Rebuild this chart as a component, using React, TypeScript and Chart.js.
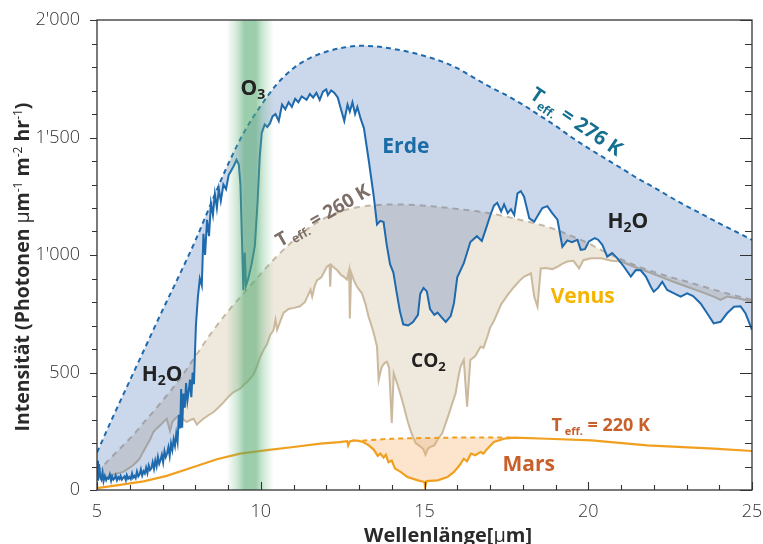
import React, { useEffect, useRef } from 'react';
import { Chart, registerables } from 'chart.js';

Chart.register(...registerables);

// ---------- data ----------
const earthBBX = [5, 5.5, 6, 6.5, 7, 7.5, 8, 8.5, 9, 9.5, 10, 10.5, 11, 11.5, 12, 12.5, 13, 13.5, 14, 14.5, 15, 15.5, 16, 16.5, 17, 17.5, 18, 18.5, 19, 19.5, 20, 20.5, 21, 21.5, 22, 22.5, 23, 23.5, 24, 24.5, 25];
const earthBBY = [160, 315, 465, 615, 765, 910, 1060, 1225, 1385, 1525, 1635, 1728, 1795, 1838, 1865, 1882, 1890, 1888, 1878, 1865, 1847, 1825, 1795, 1755, 1715, 1680, 1640, 1595, 1550, 1500, 1455, 1412, 1370, 1327, 1288, 1247, 1208, 1172, 1135, 1100, 1064];

const earthX = [5.0, 5.03, 5.06, 5.1, 5.13, 5.17, 5.2, 5.24, 5.28, 5.31, 5.35, 5.39, 5.43, 5.46, 5.5, 5.54, 5.57, 5.61, 5.65, 5.69, 5.72, 5.76, 5.8, 5.84, 5.88, 5.91, 5.95, 5.99, 6.03, 6.07, 6.1, 6.14, 6.18, 6.22, 6.26, 6.3, 6.34, 6.38, 6.42, 6.46, 6.5, 6.54, 6.58, 6.62, 6.66, 6.7, 6.74, 6.78, 6.82, 6.86, 6.9, 6.94, 6.98, 7.02, 7.06, 7.1, 7.14, 7.18, 7.22, 7.26, 7.3, 7.34, 7.38, 7.42, 7.46, 7.5, 7.54, 7.57, 7.6, 7.64, 7.68, 7.72, 7.76, 7.8, 7.84, 7.88, 7.92, 7.96, 8.02, 8.08, 8.14, 8.2, 8.25, 8.3, 8.36, 8.42, 8.48, 8.54, 8.6, 8.66, 8.72, 8.78, 8.86, 8.94, 9.02, 9.1, 9.18, 9.26, 9.33, 9.38, 9.43, 9.47, 9.51, 9.55, 9.62, 9.72, 9.82, 9.9, 9.97, 10.03, 10.12, 10.2, 10.28, 10.36, 10.45, 10.55, 10.65, 10.75, 10.85, 10.95, 11.05, 11.15, 11.25, 11.4, 11.5, 11.6, 11.7, 11.8, 11.9, 12.0, 12.05, 12.15, 12.25, 12.35, 12.45, 12.55, 12.65, 12.72, 12.8, 12.88, 12.95, 13.05, 13.15, 13.3, 13.45, 13.55, 13.65, 13.75, 13.85, 13.95, 14.05, 14.15, 14.25, 14.35, 14.5, 14.65, 14.8, 14.87, 14.97, 15.07, 15.17, 15.3, 15.4, 15.55, 15.65, 15.8, 15.9, 16.0, 16.2, 16.4, 16.6, 16.75, 16.86, 17.0, 17.12, 17.22, 17.34, 17.43, 17.54, 17.64, 17.74, 17.84, 17.94, 18.04, 18.2, 18.35, 18.5, 18.6, 18.75, 18.9, 19.06, 19.21, 19.36, 19.5, 19.67, 19.77, 19.9, 20.02, 20.2, 20.3, 20.43, 20.58, 20.73, 20.89, 21.09, 21.3, 21.45, 21.6, 21.76, 21.91, 22.0, 22.13, 22.26, 22.41, 22.62, 22.82, 23.02, 23.2, 23.43, 23.63, 23.83, 24.04, 24.24, 24.45, 24.65, 24.8, 24.92, 25.0];
const earthY = [125, 40, 110, 55, 45, 75, 38, 60, 42, 52, 48, 66, 40, 58, 44, 50, 62, 41, 55, 47, 60, 44, 52, 58, 42, 63, 48, 55, 46, 70, 52, 60, 50, 78, 58, 66, 88, 62, 80, 70, 95, 72, 104, 85, 92, 118, 90, 125, 100, 140, 112, 128, 150, 118, 165, 140, 155, 182, 145, 198, 170, 215, 188, 240, 205, 320, 262, 430, 265, 410, 350, 455, 380, 420, 470, 395, 500, 450, 700, 820, 900, 870, 1090, 1000, 1150, 1080, 1220, 1170, 1260, 1200, 1280, 1230, 1300, 1280, 1340, 1360, 1380, 1405, 1385, 1300, 1050, 850, 1010, 870, 900, 960, 1040, 1220, 1420, 1520, 1555, 1545, 1560, 1590, 1600, 1570, 1640, 1620, 1650, 1630, 1665, 1650, 1675, 1660, 1685, 1670, 1690, 1660, 1695, 1705, 1680, 1700, 1690, 1670, 1620, 1570, 1640, 1610, 1650, 1600, 1630, 1580, 1540, 1400, 1250, 1130, 1145, 1140, 1040, 960, 925, 840, 760, 705, 700, 715, 745, 835, 860, 845, 770, 745, 755, 730, 715, 740, 795, 905, 965, 1055, 1080, 1060, 1105, 1165, 1210, 1222, 1185, 1215, 1178, 1195, 1170, 1262, 1272, 1248, 1156, 1142, 1178, 1200, 1208, 1178, 1150, 1035, 1062, 1055, 1065, 1022, 1025, 1058, 1072, 1065, 1043, 993, 1008, 986, 950, 908, 936, 935, 908, 865, 844, 860, 886, 851, 837, 823, 837, 825, 794, 752, 709, 716, 752, 780, 782, 752, 710, 681];

const venusBBX = [5, 5.5, 6, 6.5, 7, 7.5, 8, 8.5, 9, 9.5, 10, 10.5, 11, 11.5, 12, 12.5, 13, 13.5, 14, 14.5, 15, 15.5, 16, 16.5, 17, 17.5, 18, 18.5, 19, 19.5, 20, 20.5, 21, 21.5, 22, 22.5, 23, 23.5, 24, 24.5, 25];
const venusBBY = [75, 148, 218, 298, 380, 467, 568, 670, 760, 840, 920, 995, 1062, 1118, 1160, 1188, 1204, 1212, 1215, 1214, 1210, 1204, 1196, 1188, 1178, 1163, 1147, 1130, 1108, 1080, 1050, 1013, 982, 952, 928, 906, 887, 866, 846, 827, 809];

const venusX = [5.0, 5.2, 5.4, 5.6, 5.8, 6.0, 6.1, 6.2, 6.3, 6.4, 6.52, 6.62, 6.72, 6.82, 6.93, 7.03, 7.13, 7.23, 7.3, 7.38, 7.46, 7.54, 7.64, 7.74, 7.85, 7.95, 8.05, 8.15, 8.25, 8.4, 8.56, 8.7, 8.87, 9.0, 9.17, 9.37, 9.5, 9.6, 9.68, 9.78, 9.88, 9.98, 10.1, 10.19, 10.29, 10.39, 10.45, 10.5, 10.6, 10.7, 10.85, 11.01, 11.2, 11.35, 11.45, 11.52, 11.57, 11.65, 11.72, 11.85, 12.02, 12.1, 12.12, 12.15, 12.25, 12.33, 12.45, 12.53, 12.63, 12.7, 12.72, 12.76, 12.85, 12.94, 13.09, 13.2, 13.29, 13.38, 13.45, 13.55, 13.6, 13.65, 13.7, 13.78, 13.85, 13.92, 14.0, 14.06, 14.16, 14.27, 14.37, 14.47, 14.57, 14.65, 14.73, 14.88, 14.96, 15.03, 15.1, 15.18, 15.3, 15.4, 15.54, 15.65, 15.75, 15.85, 15.95, 16.02, 16.1, 16.2, 16.3, 16.4, 16.55, 16.71, 16.8, 16.92, 17.0, 17.12, 17.34, 17.54, 17.74, 17.9, 18.04, 18.15, 18.25, 18.35, 18.45, 18.55, 18.7, 18.9, 19.06, 19.2, 19.36, 19.55, 19.72, 19.85, 20.08, 20.4, 20.7, 21.0, 21.4, 21.8, 22.2, 22.6, 23.0, 23.43, 23.83, 24.04, 24.24, 24.6, 25.0];
const venusY = [55, 42, 62, 70, 77, 95, 105, 118, 133, 160, 190, 215, 247, 262, 275, 290, 303, 250, 290, 303, 312, 318, 300, 289, 298, 303, 278, 292, 303, 318, 332, 350, 374, 395, 417, 431, 450, 462, 475, 492, 525, 565, 600, 620, 660, 680, 725, 682, 720, 755, 770, 775, 782, 800, 830, 852, 823, 870, 893, 905, 950, 958, 865, 958, 945, 936, 915, 908, 895, 936, 730, 925, 890, 865, 837, 790, 738, 700, 667, 610, 468, 500, 525, 540, 546, 520, 285, 497, 455, 405, 355, 300, 255, 225, 200, 184, 175, 150, 175, 184, 190, 215, 241, 285, 326, 370, 411, 470, 525, 553, 355, 553, 570, 610, 605, 652, 690, 720, 790, 830, 865, 890, 908, 915, 922, 823, 780, 943, 945, 940, 950, 962, 972, 975, 943, 978, 986, 986, 976, 972, 950, 929, 908, 886, 866, 844, 823, 809, 823, 815, 801];

const marsBBX = [13.1, 14, 15, 16, 17, 17.75];
const marsBBY = [210, 218, 221, 223, 223, 223];

const marsX = [5.0, 5.6, 6.42, 7.13, 7.95, 8.66, 9.37, 10.19, 11.0, 11.82, 12.4, 12.64, 12.67, 12.72, 12.84, 13.0, 13.14, 13.3, 13.45, 13.57, 13.65, 13.75, 13.82, 13.9, 14.0, 14.1, 14.27, 14.48, 14.8, 15.0, 15.02, 15.06, 15.4, 15.7, 15.9, 16.07, 16.2, 16.3, 16.42, 16.55, 16.71, 16.8, 16.92, 17.12, 17.43, 17.73, 18.75, 20.1, 21.8, 23.83, 25.0];
const marsY = [8, 20, 37, 60, 98, 131, 155, 170, 183, 197, 204, 208, 190, 207, 211, 209, 203, 190, 172, 145, 155, 138, 150, 118, 125, 91, 77, 55, 41, 34, 12, 38, 41, 55, 77, 105, 133, 122, 155, 148, 162, 155, 176, 204, 218, 223, 218, 211, 190, 176, 166];

const xTickValues = [5, 10, 15, 20, 25];
const xTickLabels = ['5', '10', '15', '20', '25'];
const yTickValues = [0, 500, 1000, 1500, 2000];
const yTickLabels = ['0', '500', "1'000", "1'500", "2'000"];
const ozoneBand = [8.95, 10.4];

// ---------- helpers ----------
const SANS = "'Open Sans', 'DejaVu Sans', sans-serif";
const f = (w: number, s: number) => `${w} ${s}px ${SANS}`;
const pts = (xs: number[], ys: number[]) => xs.map((x, i) => ({ x, y: ys[i] }));

type Run = { t: string; font: string; dy?: number };

function drawRuns(ctx: CanvasRenderingContext2D, runs: Run[], cx: number, cy: number, angle: number, color: string, size: number) {
  ctx.save();
  ctx.translate(cx, cy);
  ctx.rotate(angle);
  ctx.fillStyle = color;
  ctx.textBaseline = 'alphabetic';
  ctx.textAlign = 'left';
  let total = 0;
  for (const r of runs) {
    ctx.font = r.font;
    total += ctx.measureText(r.t).width;
  }
  let x = -total / 2;
  const base = size * 0.36;
  for (const r of runs) {
    ctx.font = r.font;
    ctx.fillText(r.t, x, base + (r.dy || 0));
    x += ctx.measureText(r.t).width;
  }
  ctx.restore();
}

const deg = (d: number) => (d * Math.PI) / 180;

const decorPlugin = {
  id: 'decor',
  afterDatasetsDraw(chart: any) {
    const { ctx, chartArea: a, scales } = chart;
    const xs = scales.x;
    const ys = scales.y;
    // ozone band
    const x1 = xs.getPixelForValue(ozoneBand[0]);
    const x2 = xs.getPixelForValue(ozoneBand[1]);
    const g = ctx.createLinearGradient(x1, 0, x2, 0);
    g.addColorStop(0, 'rgba(100,180,125,0)');
    g.addColorStop(0.22, 'rgba(100,180,125,0.3)');
    g.addColorStop(0.38, 'rgba(85,170,112,0.58)');
    g.addColorStop(0.62, 'rgba(85,170,112,0.58)');
    g.addColorStop(0.78, 'rgba(100,180,125,0.3)');
    g.addColorStop(1, 'rgba(100,180,125,0)');
    ctx.save();
    ctx.fillStyle = g;
    ctx.fillRect(x1, a.top, x2 - x1, a.bottom - a.top);
    ctx.restore();

    const P = (x: number, y: number) => [xs.getPixelForValue(x), ys.getPixelForValue(y)];
    const labels: { at: [number, number]; runs: Run[]; color: string; angle: number; size: number }[] = [
      { at: [9.76, 1715], runs: [{ t: 'O', font: f(700, 21) }, { t: '3', font: f(700, 14), dy: 4 }], color: '#222', angle: 0, size: 21 },
      { at: [14.43, 1466], runs: [{ t: 'Erde', font: f(700, 21) }], color: '#1b6ca6', angle: 0, size: 21 },
      { at: [6.99, 494], runs: [{ t: 'H', font: f(700, 21) }, { t: '2', font: f(700, 14), dy: 4 }, { t: 'O', font: f(700, 21) }], color: '#222', angle: 0, size: 21 },
      { at: [21.21, 1149], runs: [{ t: 'H', font: f(700, 21) }, { t: '2', font: f(700, 14), dy: 4 }, { t: 'O', font: f(700, 21) }], color: '#222', angle: 0, size: 21 },
      { at: [15.12, 553], runs: [{ t: 'CO', font: f(700, 19) }, { t: '2', font: f(700, 13), dy: 4 }], color: '#222', angle: 0, size: 19 },
      { at: [19.83, 830], runs: [{ t: 'Venus', font: f(700, 21) }], color: '#f5b400', angle: 0, size: 21 },
      { at: [18.18, 115], runs: [{ t: 'Mars', font: f(700, 21) }], color: '#c8602b', angle: 0, size: 21 },
      { at: [20.38, 277], runs: [{ t: 'T', font: f(700, 18) }, { t: ' eff.', font: f(700, 11), dy: 4 }, { t: ' = 220 K', font: f(700, 18) }], color: '#c8602b', angle: 0, size: 18 },
      { at: [19.65, 1570], runs: [{ t: 'T', font: f(700, 20) }, { t: 'eff.', font: f(700, 12), dy: 5 }, { t: ' = 276 K', font: f(700, 20) }], color: '#15708f', angle: deg(34), size: 20 },
      { at: [11.88, 1170], runs: [{ t: 'T', font: f(700, 19) }, { t: ' eff.', font: f(700, 12), dy: 4 }, { t: ' = 260 K', font: f(700, 19) }], color: '#7d6e66', angle: deg(-30), size: 19 },
    ];
    for (const l of labels) {
      const [px, py] = P(l.at[0], l.at[1]);
      drawRuns(ctx, l.runs, px, py, l.angle, l.color, l.size);
    }
  },
  afterDraw(chart: any) {
    const { ctx, chartArea: a, scales } = chart;
    const xs = scales.x;
    const ys = scales.y;
    ctx.save();
    ctx.strokeStyle = '#333';
    ctx.lineWidth = 1.3;
    ctx.strokeRect(a.left, a.top, a.right - a.left, a.bottom - a.top);
    ctx.lineWidth = 1.1;
    ctx.beginPath();
    for (let v = 0; v <= 2000; v += 100) {
      const y = Math.round(ys.getPixelForValue(v)) + 0.5;
      const major = v % 500 === 0;
      ctx.moveTo(a.left - (major ? 7 : 5), y);
      ctx.lineTo(a.left, y);
      ctx.moveTo(a.right, y);
      ctx.lineTo(a.right - (major ? 12 : 7), y);
    }
    for (let v = 5; v <= 25; v += 1) {
      const x = Math.round(xs.getPixelForValue(v)) + 0.5;
      const major = v % 5 === 0;
      ctx.moveTo(x, a.bottom);
      ctx.lineTo(x, a.bottom - (major ? 8 : 5));
    }
    ctx.stroke();
    ctx.restore();

    // y axis title
    drawRuns(
      ctx,
      [
        { t: 'Intensität (Photonen ', font: f(700, 19.5) },
        { t: 'µ', font: f(400, 19.5) },
        { t: 'm', font: f(700, 19.5) },
        { t: '-1', font: f(400, 12), dy: -7 },
        { t: ' m', font: f(700, 19.5) },
        { t: '-2', font: f(400, 12), dy: -7 },
        { t: ' hr', font: f(700, 19.5) },
        { t: '-1', font: f(400, 12), dy: -7 },
        { t: ')', font: f(700, 19.5) },
      ],
      a.left - 75,
      (a.top + a.bottom) / 2 + 12,
      -Math.PI / 2,
      '#2a2a2a',
      19.5
    );
    // x axis title
    drawRuns(
      ctx,
      [
        { t: 'Wellenlänge[', font: f(700, 20) },
        { t: 'µ', font: f(400, 20) },
        { t: 'm]', font: f(700, 20) },
      ],
      a.left + (a.right - a.left) * 0.536,
      a.bottom + 45,
      0,
      '#2a2a2a',
      20
    );
  },
};

export default function App() {
  const ref = useRef<HTMLCanvasElement | null>(null);
  useEffect(() => {
    document.body.style.margin = '0';
    const canvas = ref.current;
    if (!canvas) return;
    const chart = new Chart(canvas, {
      type: 'line',
      data: {
        datasets: [
          { label: 'Erde', data: pts(earthX, earthY), borderColor: '#1f69ad', borderWidth: 2, pointRadius: 0, fill: false, tension: 0 },
          { label: 'Erde 276 K', data: pts(earthBBX, earthBBY), borderColor: '#1f69ad', borderWidth: 2, borderDash: [5, 4], pointRadius: 0, fill: '-1', backgroundColor: 'rgba(70,110,180,0.28)', cubicInterpolationMode: 'monotone' },
          { label: 'Mars', data: pts(marsX, marsY), borderColor: '#f0a01e', borderWidth: 2.2, pointRadius: 0, fill: false, tension: 0 },
          { label: 'Mars 220 K', data: pts(marsBBX, marsBBY), borderColor: '#f0a01e', borderWidth: 2, borderDash: [5, 4], pointRadius: 0, fill: '-1', backgroundColor: 'rgba(245,170,100,0.32)', cubicInterpolationMode: 'monotone' },
          { label: 'Venus', data: pts(venusX, venusY), borderColor: '#cbb99d', borderWidth: 2, pointRadius: 0, fill: false, tension: 0 },
          { label: 'Venus 260 K', data: pts(venusBBX, venusBBY), borderColor: '#c4b8a6', borderWidth: 2, borderDash: [6, 5], pointRadius: 0, fill: '-1', backgroundColor: 'rgba(215,200,175,0.42)', cubicInterpolationMode: 'monotone' },
        ] as any,
      },
      options: {
        animation: false,
        responsive: true,
        maintainAspectRatio: false,
        events: [],
        layout: { padding: { top: 20, right: 11, left: 0, bottom: 0 } },
        plugins: { legend: { display: false }, tooltip: { enabled: false } },
        scales: {
          x: {
            type: 'linear',
            min: 5,
            max: 25,
            afterBuildTicks: (s: any) => {
              s.ticks = xTickValues.map((v) => ({ value: v }));
            },
            ticks: {
              callback: (v: any) => xTickLabels[xTickValues.indexOf(Number(v))] ?? '',
              font: { family: SANS, size: 18, weight: 300 as any },
              color: '#333',
              padding: 3,
              maxRotation: 0,
            },
            grid: { display: false },
            border: { display: false },
            afterFit: (s: any) => {
              s.height = 54;
              s.paddingLeft = 0;
              s.paddingRight = 0;
            },
          },
          y: {
            type: 'linear',
            min: 0,
            max: 2000,
            afterBuildTicks: (s: any) => {
              s.ticks = yTickValues.map((v) => ({ value: v }));
            },
            ticks: {
              callback: (v: any) => yTickLabels[yTickValues.indexOf(Number(v))] ?? '',
              font: { family: SANS, size: 18, weight: 300 as any },
              color: '#333',
              padding: 9,
            },
            grid: { display: false },
            border: { display: false },
            afterFit: (s: any) => {
              s.width = 97;
              s.paddingTop = 0;
              s.paddingBottom = 0;
            },
          },
        },
      },
      plugins: [decorPlugin],
    });
    return () => chart.destroy();
  }, []);
  return (
    <div style={{ position: 'fixed', left: 0, top: 0, width: 763, height: 544, background: '#fff' }}>
      <canvas ref={ref} />
    </div>
  );
}
